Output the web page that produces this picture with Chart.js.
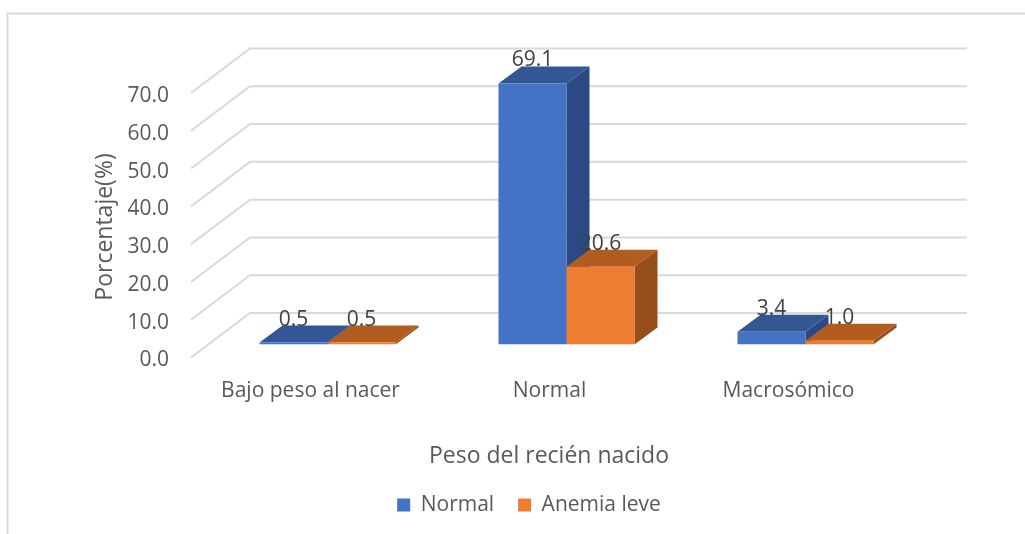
<!DOCTYPE html>
<html>
<head>
<meta charset="utf-8">
<script src="https://cdn.jsdelivr.net/npm/chart.js@4"></script>
<style>
  html, body { margin: 0; padding: 0; background: #fff; overflow: hidden; }
  #box { position: relative; width: 1025px; height: 534px; }
</style>
</head>
<body>
<div id="box"><canvas id="pesoChart" width="1025" height="534"></canvas></div>
<script>
const categories = ['Bajo peso al nacer', 'Normal', 'Macrosómico'];
const normalValues = [0.5, 69.1, 3.4];
const anemiaValues = [0.5, 20.6, 1.0];
const seriesNames = ['Normal', 'Anemia leve'];
const yMax = 70;
const yStep = 10;

const FONT = '"Open Sans", sans-serif';
const GRID = '#d9d9d9';
const floorY = 344.5;
const faces = [
    { front: '#4472c4', top: '#335694', side: '#294a82' },
    { front: '#ed7d31', top: '#b25c20', side: '#964f1c' }
];

// depth of a bar, and how far the floor and walls reach around it
const barDepth = { x: 23, y: -17 };
const floorFront = { x: -17, y: 13 };
const wallDepth = { x: 59, y: -44.5 };

// side and top of each bar go in behind the flat fronts the library draws
const boxFaces = {
    id: 'boxFaces',
    beforeDatasetsDraw(chart) {
        const { ctx } = chart;
        const poly = (color, pts) => {
            ctx.fillStyle = color;
            ctx.beginPath();
            pts.forEach((p, i) => i ? ctx.lineTo(p[0], p[1]) : ctx.moveTo(p[0], p[1]));
            ctx.closePath();
            ctx.fill();
        };
        ctx.save();
        chart.data.datasets.forEach((ds, d) => {
            chart.getDatasetMeta(d).data.forEach(bar => {
                const l = bar.x - bar.width / 2, r = bar.x + bar.width / 2;
                const t = bar.y, b = bar.base;
                const dx = barDepth.x, dy = barDepth.y;
                poly(faces[d].side, [[r, t], [r + dx, t + dy], [r + dx, b + dy], [r, b]]);
                poly(faces[d].top, [[l, t], [l + dx, t + dy], [r + dx, t + dy], [r, t]]);
            });
        });
        ctx.restore();
    }
};

// frame, back wall lines and the diagonals running forward from them
const walls = {
    id: 'walls',
    afterLayout(chart) {
        // tick labels overhang the narrow axis box, legend sits low and right of centre
        chart.scales.y.left = 100;
        chart.legend.top = 498 - chart.legend.height / 2;
        chart.legend.bottom = chart.legend.top + chart.legend.height;
    },
    beforeDraw(chart) {
        const { ctx, chartArea, scales } = chart;
        const width = chart.width;
        ctx.save();
        ctx.strokeStyle = GRID;
        ctx.lineWidth = 2;
        ctx.beginPath();
        ctx.moveTo(7.5, 534);
        ctx.lineTo(7.5, 13.5);
        ctx.lineTo(width, 13.5);
        ctx.stroke();

        const x0 = chartArea.left + floorFront.x;
        const x1 = x0 + wallDepth.x;
        const x2 = chartArea.right + floorFront.x + wallDepth.x;
        scales.y.ticks.forEach(t => {
            const y0 = scales.y.getPixelForValue(t.value) + floorFront.y;
            const y1 = y0 + wallDepth.y;
            ctx.beginPath();
            ctx.moveTo(x0, y0);
            ctx.lineTo(x1, y1);
            ctx.lineTo(x2, y1);
            ctx.stroke();
        });
        ctx.restore();
    }
};

// value labels above the bars, plus the two axis titles
const texts = {
    id: 'texts',
    afterDatasetsDraw(chart) {
        const { ctx } = chart;
        ctx.save();
        ctx.textAlign = 'center';
        ctx.textBaseline = 'middle';
        ctx.font = '21px ' + FONT;
        ctx.fillStyle = '#404040';
        chart.data.datasets.forEach((ds, d) => {
            chart.getDatasetMeta(d).data.forEach((bar, i) => {
                ctx.fillText(ds.data[i].toFixed(1), bar.x, bar.y - 23);
            });
        });
        ctx.fillStyle = '#595959';
        ctx.font = '23px ' + FONT;
        ctx.fillText('Peso del recién nacido', 549, 456);
        ctx.translate(105, 227);
        ctx.rotate(-Math.PI / 2);
        ctx.fillText('Porcentaje(%)', 0, 0);
        ctx.restore();
    }
};

new Chart(document.getElementById('pesoChart'), {
    type: 'bar',
    data: {
        labels: categories,
        datasets: [
            { label: seriesNames[0], data: normalValues, backgroundColor: faces[0].front },
            { label: seriesNames[1], data: anemiaValues, backgroundColor: faces[1].front }
        ]
    },
    plugins: [walls, boxFaces, texts],
    options: {
        responsive: false,
        animation: false,
        categoryPercentage: 0.569,
        barPercentage: 1,
        layout: { padding: { left: 133, right: 100, top: 80, bottom: 0 } },
        plugins: {
            tooltip: { enabled: false },
            legend: {
                position: 'bottom',
                labels: {
                    boxWidth: 13,
                    boxHeight: 13,
                    padding: 24,
                    color: '#595959',
                    font: { family: FONT, size: 21 }
                }
            }
        },
        scales: {
            x: {
                grid: { display: false },
                border: { display: false },
                afterFit(scale) { scale.height = scale.chart.height - floorY - scale.chart.legend.height; },
                ticks: {
                    labelOffset: -17,
                    padding: 26,
                    maxRotation: 0,
                    color: '#595959',
                    font: { family: FONT, size: 21 }
                }
            },
            y: {
                min: 0,
                max: yMax,
                grid: { display: false },
                border: { display: false },
                afterFit(scale) { scale.width = 75; },
                ticks: {
                    stepSize: yStep,
                    padding: 31,
                    labelOffset: 16,
                    color: '#595959',
                    font: { family: FONT, size: 21 },
                    callback: v => v.toFixed(1)
                }
            }
        }
    }
});
</script>
</body>
</html>
